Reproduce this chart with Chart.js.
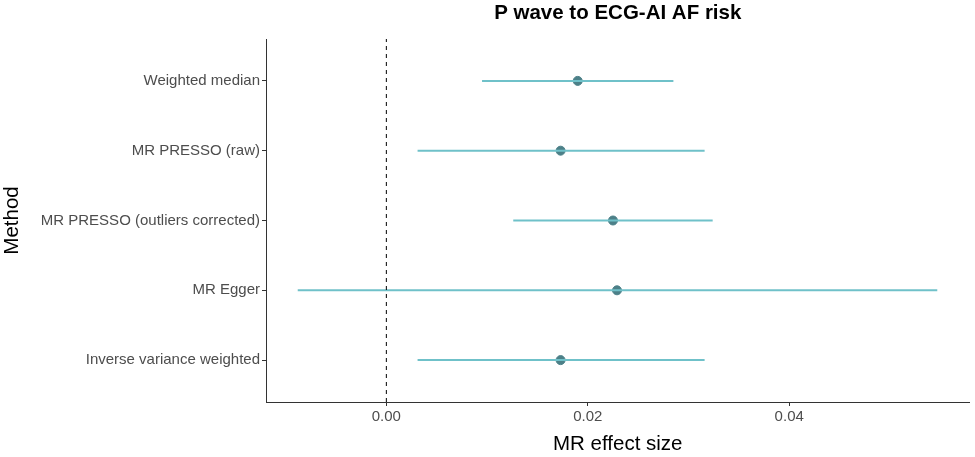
<!DOCTYPE html>
<html><head><meta charset="utf-8">
<script src="https://cdn.jsdelivr.net/npm/chart.js@4"></script>
<style>html,body{margin:0;padding:0;background:#fff}#wrap{width:975px;height:457px}</style>
</head><body><div id="wrap"><canvas id="c" width="975" height="457"></canvas></div>
<script>
const methods = ["Inverse variance weighted","MR Egger","MR PRESSO (outliers corrected)","MR PRESSO (raw)","Weighted median"];
const estimate = [0.0173, 0.0229, 0.0225, 0.0173, 0.0190];
const lower = [0.0031, -0.0088, 0.0126, 0.0031, 0.0095];
const upper = [0.0316, 0.0547, 0.0324, 0.0316, 0.0285];
const xTicks = [0, 0.02, 0.04];
const titleText = "P wave to ECG-AI AF risk";

const FONT = "'Liberation Sans', Arial, Helvetica, sans-serif";
const lineColor = "#6fc1c9";
const pointColor = "#4c8088";

const datasets = [];
datasets.push({type:'line', data:[{x:0,y:0.4},{x:0,y:5.6}], borderColor:'#000', borderWidth:1, borderDash:[4,4], pointRadius:0, fill:false});
methods.forEach((m,i)=>{
  datasets.push({type:'line', data:[{x:lower[i],y:i+1},{x:upper[i],y:i+1}], borderColor:lineColor, borderWidth:2, pointRadius:0, fill:false});
});
datasets.push({type:'scatter', data:methods.map((m,i)=>({x:estimate[i],y:i+1})), backgroundColor:pointColor, borderColor:pointColor, pointRadius:4.5, pointHoverRadius:4.5});

const titlePlugin = {
  id:'ttl',
  afterDraw(chart){
    const ctx = chart.ctx, a = chart.chartArea;
    ctx.save();
    ctx.font = "bold 20.5px " + FONT;
    ctx.fillStyle = "#000";
    ctx.textAlign = "center";
    ctx.textBaseline = "middle";
    ctx.fillText(titleText, (a.left + a.right)/2, 13);
    ctx.restore();
  }
};

new Chart(document.getElementById('c'), {
  data:{datasets},
  options:{
    responsive:false, animation:false, events:[],
    layout:{padding:{top:39,right:4,left:0,bottom:0}},
    plugins:{legend:{display:false}, tooltip:{enabled:false}, title:{display:false}},
    scales:{
      x:{type:'linear', min:-0.01195, max:0.0579,
        afterBuildTicks(s){ s.ticks = xTicks.map(v=>({value:v})); },
        afterFit(s){ s.height = 55; },
        ticks:{callback:v=>v.toFixed(2), color:'#4d4d4d', font:{family:FONT,size:15}, padding:2, maxRotation:0},
        grid:{drawOnChartArea:false, tickLength:4, color:'#333', lineWidth:1},
        border:{display:true, color:'#333', width:1},
        title:{display:true, text:'MR effect size', color:'#000', font:{family:FONT,size:20.5}, padding:{top:5,bottom:0}}
      },
      y:{type:'linear', min:0.4, max:5.6,
        afterBuildTicks(s){ s.ticks = methods.map((m,i)=>({value:i+1})); },
        afterFit(s){ s.width = 266; },
        ticks:{callback:v=>methods[Math.round(v)-1]||'', color:'#4d4d4d', font:{family:FONT,size:15}, padding:2},
        grid:{drawOnChartArea:false, tickLength:4, color:'#333', lineWidth:1},
        border:{display:true, color:'#333', width:1},
        title:{display:true, text:'Method', color:'#000', font:{family:FONT,size:20.5}, padding:{top:0,bottom:0}}
      }
    }
  },
  plugins:[titlePlugin]
});
</script></body></html>
